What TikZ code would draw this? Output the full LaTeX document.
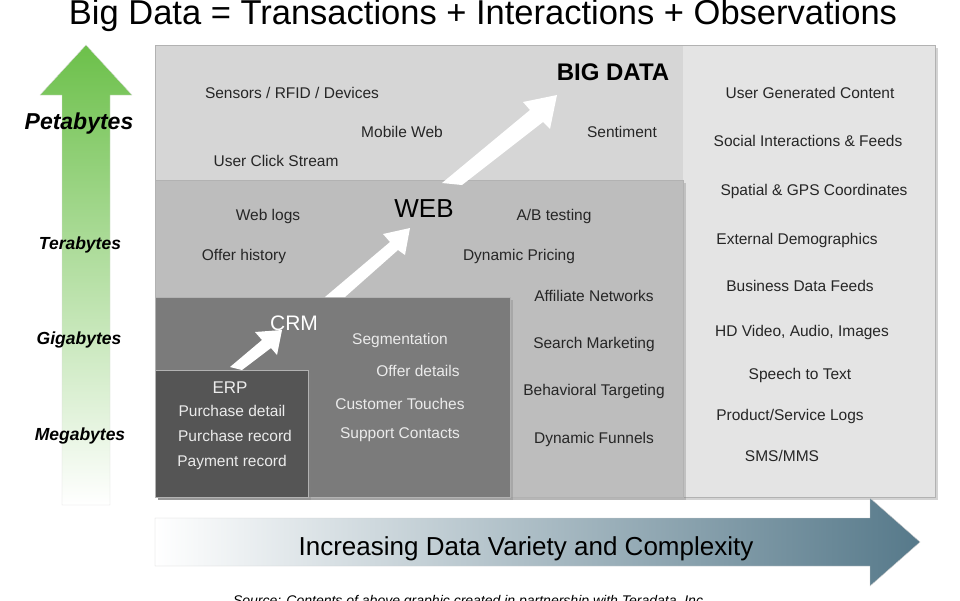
\documentclass[tikz,border=0pt]{standalone}
\usepackage{fontspec}
\setmainfont{Liberation Sans}
\usetikzlibrary{positioning,shadows}
\definecolor{bigfill}{HTML}{D6D6D6}
\definecolor{rightfill}{HTML}{E4E4E4}
\definecolor{webfill}{HTML}{BDBDBD}
\definecolor{crmfill}{HTML}{7B7B7B}
\definecolor{erpfill}{HTML}{555555}
\definecolor{vgreen}{HTML}{6CC04A}
\definecolor{hblue}{HTML}{56798A}
\tikzset{
  layer/.style={draw=gray!60, line width=0.8pt, drop shadow={opacity=0.35}},
  item/.style={font=\fontsize{15.5}{18}\selectfont, text=black!85},
  itemw/.style={font=\fontsize{15.5}{18}\selectfont, text=white!92!black},
  sizelbl/.style={font=\bfseries\itshape\fontsize{17.5}{20}\selectfont},
  uparrow/.style={fill=white, draw=none}
}
\begin{document}
\begin{tikzpicture}[x=1pt,y=-1pt]
  \useasboundingbox (0,0) rectangle (960,600);
  % Title
  \node (title) at (483,16) {\fontsize{34.5}{38}\selectfont Big Data = Transactions + Interactions + Observations};

  % Layers
  \fill[rightfill, layer] (155,45) rectangle (935,497);
  \fill[bigfill] (156,46) rectangle (683,180);
  \fill[webfill, layer] (155,180) rectangle (683,497);
  \fill[crmfill, layer] (155,297) rectangle (510,497);
  \fill[erpfill, layer] (155,370) rectangle (308,497);

  % Vertical arrow
  \shade[top color=vgreen, bottom color=white, draw=gray!30]
    (62,505) -- (62,95) -- (40,95) -- (86,45) -- (132,95) -- (110,95) -- (110,505) -- cycle;
  \node[font=\bfseries\itshape\fontsize{23}{26}\selectfont] (peta) at (79,124) {Petabytes};
  \node[sizelbl] (tera) at (80,245) {Terabytes};
  \node[sizelbl] (giga) at (79,340) {Gigabytes};
  \node[sizelbl] (mega) at (80,436) {Megabytes};

  % Horizontal arrow
  \shade[left color=white, right color=hblue, draw=gray!40]
    (155,518) -- (870,518) -- (870,498) -- (920,542) -- (870,586) -- (870,566) -- (155,566) -- cycle;
  \node[font=\fontsize{26}{30}\selectfont] (variety) at (526,549) {Increasing Data Variety and Complexity};
  \node[font=\itshape\fontsize{14}{16}\selectfont, anchor=north] (source) at (470,592) {Source: Contents of above graphic created in partnership with Teradata, Inc.};

  % White step arrows
  \fill[uparrow] (230,367) -- (262,340) -- (255,332) -- (282,330) -- (277,355) -- (271,348) -- (242,370) -- cycle;
  \fill[uparrow] (325,297) -- (390,242) -- (383,234) -- (410,228) -- (405,255) -- (398,250) -- (345,297) -- cycle;
  \fill[uparrow] (442,183) -- (530,110) -- (523,102) -- (557,95) -- (550,129) -- (543,122) -- (462,185) -- cycle;

  % Layer titles
  \node[font=\bfseries\fontsize{24}{28}\selectfont] (bigdata) at (613,72) {BIG DATA};
  \node[font=\fontsize{26}{30}\selectfont] (web) at (424,209) {WEB};
  \node[font=\fontsize{21}{24}\selectfont, text=white] (crm) at (294,323) {CRM};
  \node[itemw, font=\fontsize{17}{20}\selectfont] (erp) at (230,388) {ERP};

  % Big data items
  \node[item] (sensors) at (292,93) {Sensors / RFID / Devices};
  \node[item] (mobile) at (402,132) {Mobile Web};
  \node[item] (click) at (276,161) {User Click Stream};
  \node[item] (sentiment) at (622,132) {Sentiment};
  \node[item] (ugc) at (810,93) {User Generated Content};
  \node[item] (social) at (808,141) {Social Interactions \& Feeds};
  \node[item] (spatial) at (814,191) {Spatial \& GPS Coordinates};
  \node[item] (demo) at (797,240) {External Demographics};
  \node[item] (feeds) at (800,286) {Business Data Feeds};
  \node[item] (hd) at (802,332) {HD Video, Audio, Images};
  \node[item] (speech) at (800,375) {Speech to Text};
  \node[item] (logs) at (790,416) {Product/Service Logs};
  \node[item] (sms) at (782,456) {SMS/MMS};

  % Web items
  \node[item] (weblogs) at (268,216) {Web logs};
  \node[item] (offerhist) at (244,256) {Offer history};
  \node[item] (ab) at (554,216) {A/B testing};
  \node[item] (pricing) at (519,256) {Dynamic Pricing};
  \node[item] (affiliate) at (594,296) {Affiliate Networks};
  \node[item] (search) at (594,344) {Search Marketing};
  \node[item] (behav) at (594,391) {Behavioral Targeting};
  \node[item] (funnels) at (594,439) {Dynamic Funnels};

  % CRM items
  \node[itemw] (segment) at (400,340) {Segmentation};
  \node[itemw] (offerdet) at (418,371) {Offer details};
  \node[itemw] (touches) at (400,404) {Customer Touches};
  \node[itemw] (support) at (400,435) {Support Contacts};

  % ERP items
  \node[itemw] (pdetail) at (232,411) {Purchase detail};
  \node[itemw] (precord) at (235,436) {Purchase record};
  \node[itemw] (payrec) at (232,462) {Payment record};
\end{tikzpicture}
\end{document}
